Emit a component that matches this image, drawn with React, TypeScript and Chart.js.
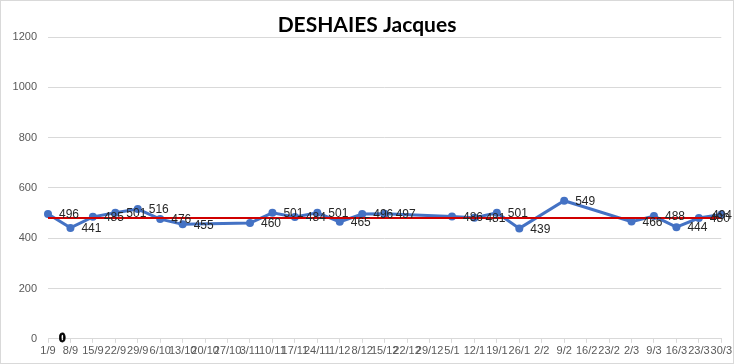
import React, { useEffect, useRef } from "react";
import { Chart, registerables } from "chart.js";

Chart.register(...registerables);

const chartTitle = "DESHAIES Jacques";

const categories = [
  "1/9", "8/9", "15/9", "22/9", "29/9", "6/10", "13/10", "20/10", "27/10", "3/11",
  "10/11", "17/11", "24/11", "1/12", "8/12", "15/12", "22/12", "29/12", "5/1", "12/1",
  "19/1", "26/1", "2/2", "9/2", "16/2", "23/2", "2/3", "9/3", "16/3", "23/3", "30/3",
];

const scores: (number | null)[] = [
  496, 441, 485, 501, 516, 476, 455, null, null, 460,
  501, 484, 501, 465, 496, 497, null, null, 486, 481,
  501, 439, null, 549, null, null, 466, 488, 444, 480, 494,
];

const average: number[] = [
  480, 480, 480, 480, 480, 480, 480, 480, 480, 480,
  480, 480, 480, 480, 480, 480, 480, 480, 480, 480,
  480, 480, 480, 480, 480, 480, 480, 480, 480, 480, 480,
];

const zeroSeries: (number | null)[] = [
  0, null, null, null, null, null, null, null, null, null,
  null, null, null, null, null, null, null, null, null, null,
  null, null, null, null, null, null, null, null, null, null, null,
];

const yTicks = { min: 0, max: 1200, step: 200 };

const bgPlugin = {
  id: "bg",
  beforeDraw(chart: any) {
    const ctx = chart.ctx;
    ctx.save();
    ctx.fillStyle = "#ffffff";
    ctx.fillRect(0, 0, chart.width, chart.height);
    ctx.restore();
  },
  afterDraw(chart: any) {
    const ctx = chart.ctx;
    ctx.save();
    ctx.strokeStyle = "#d9d9d9";
    ctx.lineWidth = 1;
    ctx.strokeRect(0.5, 0.5, chart.width - 1, chart.height - 1);
    ctx.fillStyle = "#000000";
    ctx.font = 'bold 21px Lato, "Liberation Sans", sans-serif';
    ctx.textAlign = "center";
    ctx.textBaseline = "alphabetic";
    ctx.fillText(chartTitle, 367, 32);
    ctx.restore();
  },
};

const labelPlugin = {
  id: "dataLabels",
  afterDatasetsDraw(chart: any) {
    const ctx = chart.ctx;
    ctx.save();
    ctx.textAlign = "left";
    ctx.textBaseline = "middle";
    const meta = chart.getDatasetMeta(1);
    ctx.font = '12px "Liberation Sans", sans-serif';
    ctx.fillStyle = "#262626";
    meta.data.forEach((pt: any, i: number) => {
      const v = scores[i];
      if (v == null) return;
      const t = String(v);
      const w = ctx.measureText(t).width;
      let x = pt.x + 11;
      if (x + w > chart.width - 2) x = chart.width - 2 - w;
      ctx.fillText(t, x, pt.y + 1);
    });
    const zmeta = chart.getDatasetMeta(2);
    ctx.font = 'bold 12px "Liberation Sans", sans-serif';
    ctx.fillStyle = "#000000";
    ctx.strokeStyle = "#000000";
    ctx.lineWidth = 0.8;
    zmeta.data.forEach((pt: any, i: number) => {
      const v = zeroSeries[i];
      if (v == null) return;
      const t = String(v);
      ctx.fillText(t, pt.x + 11, pt.y);
      ctx.strokeText(t, pt.x + 11, pt.y);
    });
    ctx.restore();
  },
};

export default function App() {
  const ref = useRef<HTMLCanvasElement | null>(null);

  useEffect(() => {
    document.body.style.margin = "0";
    if (!ref.current) return;
    const chart = new Chart(ref.current, {
      type: "line",
      data: {
        labels: categories,
        datasets: [
          {
            label: "Moyenne",
            data: average,
            borderColor: "#D00000",
            borderWidth: 2,
            pointRadius: 0,
            fill: false,
            order: 0,
            clip: false as any,
          },
          {
            label: chartTitle,
            data: scores,
            borderColor: "#4472C4",
            backgroundColor: "#4472C4",
            borderWidth: 3,
            pointRadius: 4,
            pointBorderWidth: 0,
            pointStyle: "circle",
            spanGaps: true,
            fill: false,
            order: 1,
            clip: false as any,
          },
          {
            label: "zero",
            data: zeroSeries,
            showLine: false,
            pointRadius: 0,
            borderColor: "transparent",
            order: 2,
            clip: false as any,
          },
        ],
      },
      options: {
        responsive: false,
        animation: false,
        layout: { padding: { top: 37, left: 8, right: 9, bottom: 4 } },
        plugins: {
          legend: { display: false },
          tooltip: { enabled: false },
          title: { display: false },
        },
        scales: {
          x: {
            offset: false,
            grid: {
              display: true,
              drawOnChartArea: false,
              drawTicks: true,
              tickLength: 4,
              color: "#d9d9d9",
            },
            border: { display: true, color: "#d9d9d9" },
            ticks: {
              autoSkip: false,
              maxRotation: 0,
              minRotation: 0,
              padding: 2,
              color: "#595959",
              font: { family: '"Liberation Sans", sans-serif', size: 11 },
            },
          },
          y: {
            min: yTicks.min,
            max: yTicks.max,
            afterFit: (s: any) => {
              s.width = 40;
            },
            grid: { color: "#d9d9d9", drawTicks: false },
            border: { display: false },
            ticks: {
              stepSize: yTicks.step,
              padding: 11,
              color: "#595959",
              font: { family: '"Liberation Sans", sans-serif', size: 11 },
              callback: (v: any) => String(v),
            },
          },
        },
      },
      plugins: [bgPlugin, labelPlugin],
    });
    return () => chart.destroy();
  }, []);

  return (
    <div style={{ width: 734, height: 364 }}>
      <canvas ref={ref} width={734} height={364} />
    </div>
  );
}
